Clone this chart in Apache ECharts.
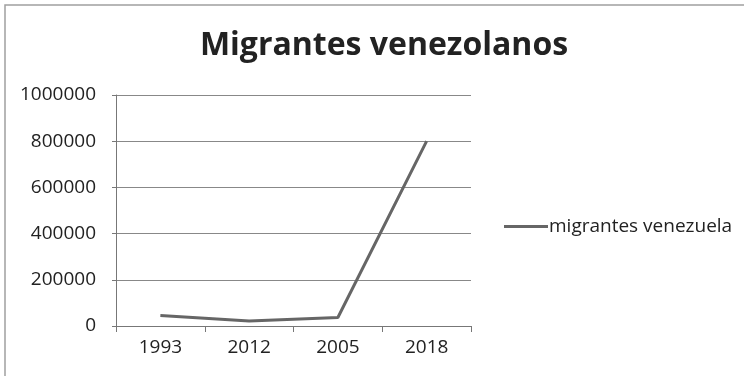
<!DOCTYPE html>
<html>
<head>
<meta charset="utf-8">
<script src="https://cdn.jsdelivr.net/npm/echarts@6/dist/echarts.min.js"></script>
<style>
html,body{margin:0;padding:0;background:#fff;}
#chart{width:744px;height:376px;}
</style>
</head>
<body>
<div id="chart"></div>
<script>
const titleText = 'Migrantes venezolanos';
const categories = ['1993', '2012', '2005', '2018'];
const seriesName = 'migrantes venezuela';
const migrantes = [45000, 22000, 37000, 800000];
const yTicks = [0, 200000, 400000, 600000, 800000, 1000000];

const chart = echarts.init(document.getElementById('chart'), null, {renderer: 'canvas'});
chart.setOption({
  animation: false,
  backgroundColor: '#fff',
  title: {
    text: titleText,
    left: 379,
    textAlign: 'center',
    top: 25,
    textStyle: {fontFamily: 'Open Sans', fontWeight: 'bold', fontSize: 32, color: '#222'}
  },
  legend: {
    data: [seriesName],
    left: 499,
    top: 212,
    itemWidth: 44,
    itemHeight: 3,
    itemGap: 0,
    icon: 'rect',
    textStyle: {fontFamily: 'Open Sans', fontSize: 19, color: '#222', padding: [0, 0, 0, -4]}
  },
  grid: {left: 116, right: 273, top: 95, bottom: 50},
  xAxis: {
    type: 'category',
    data: categories,
    boundaryGap: true,
    axisLine: {lineStyle: {color: '#777', width: 1}},
    axisTick: {show: true, length: 6, lineStyle: {color: '#777'}},
    axisLabel: {fontFamily: 'Open Sans', fontSize: 19, color: '#222', margin: 12}
  },
  yAxis: {
    type: 'value',
    min: 0,
    max: 1000000,
    interval: 200000,
    axisLine: {show: true, lineStyle: {color: '#777', width: 1}},
    axisTick: {show: true, length: 4, lineStyle: {color: '#777'}},
    splitLine: {show: true, lineStyle: {color: '#888', width: 1}},
    axisLabel: {fontFamily: 'Open Sans', fontSize: 19, color: '#222', margin: 20,
      formatter: v => yTicks.includes(v) ? String(v) : ''}
  },
  series: [{
    name: seriesName,
    type: 'line',
    data: migrantes,
    symbol: 'none',
    lineStyle: {color: '#666', width: 3},
    itemStyle: {color: '#666'}
  }],
  graphic: [{
    type: 'polyline',
    shape: {points: [[5, 376], [5, 5], [744, 5]]},
    style: {fill: 'none', stroke: '#a0a0a0', lineWidth: 1.5},
    silent: true
  }]
});
</script>
</body>
</html>
